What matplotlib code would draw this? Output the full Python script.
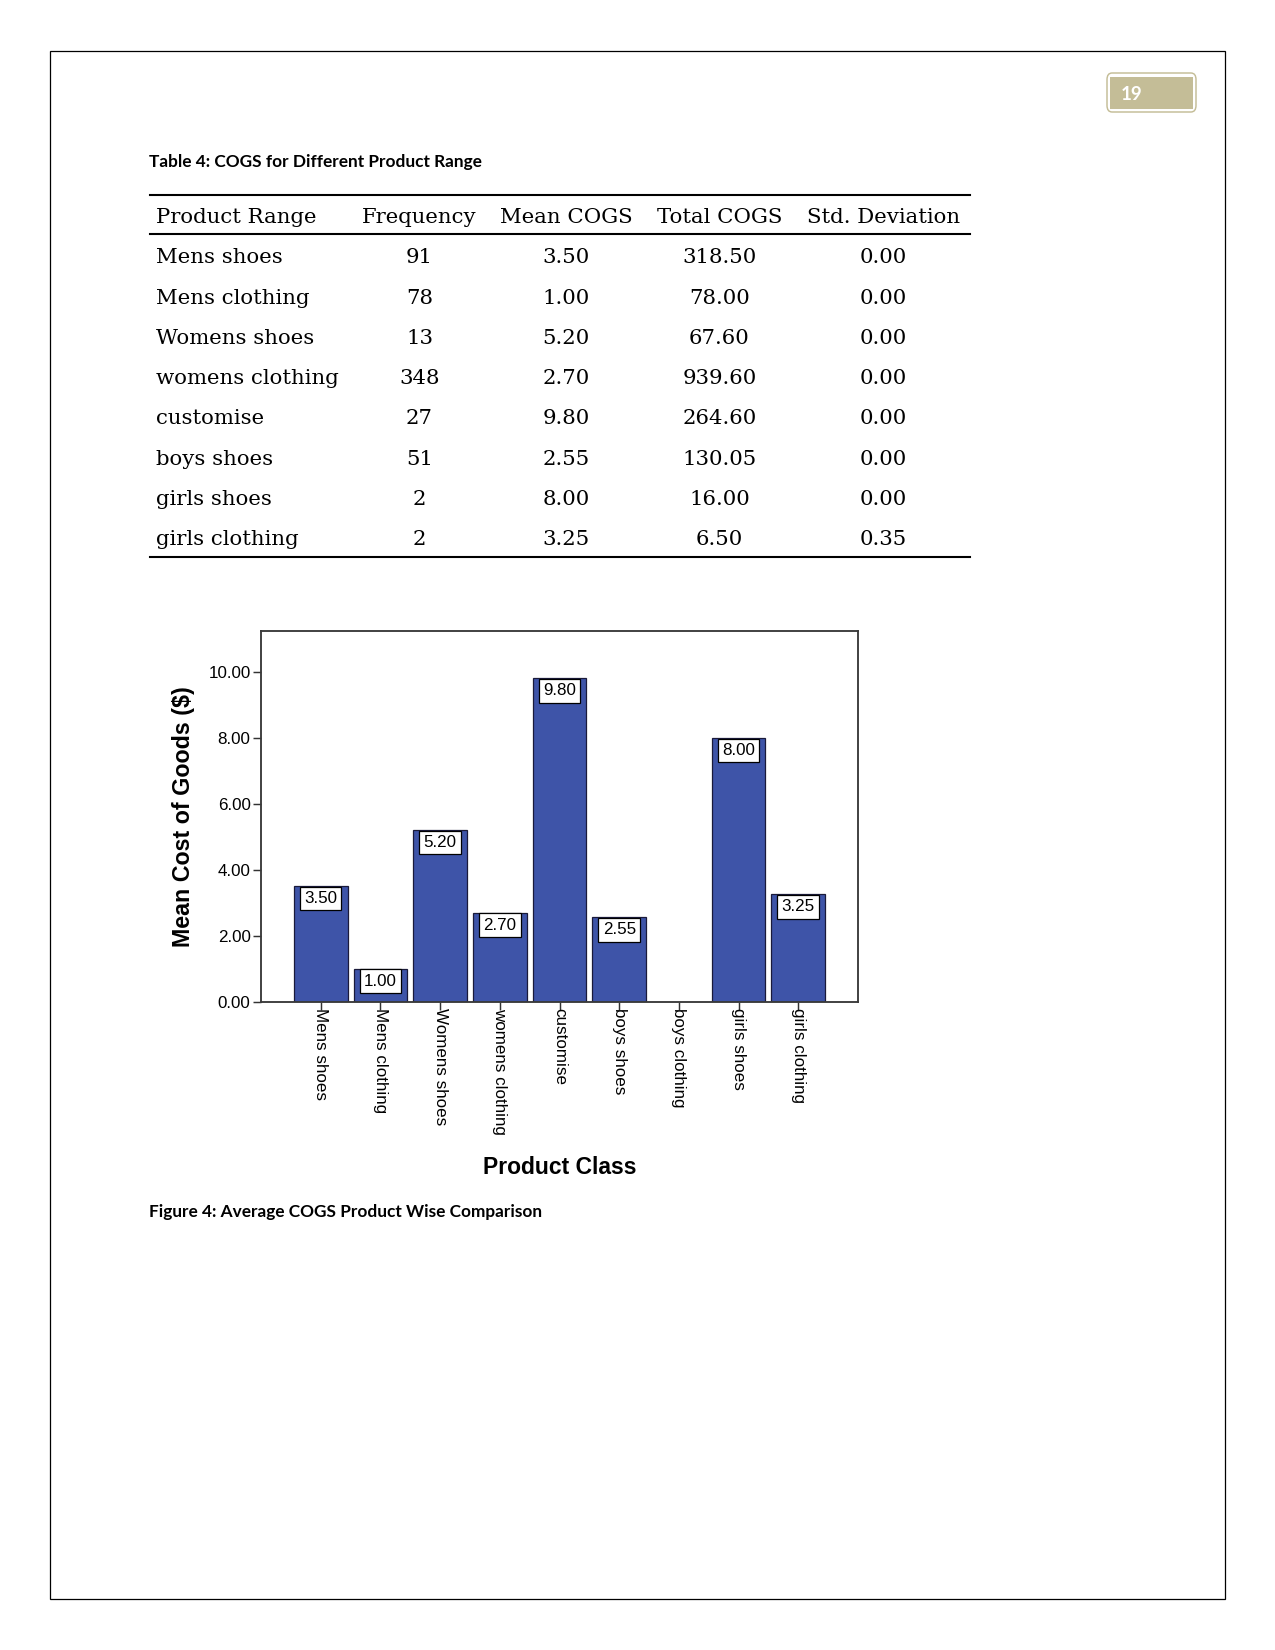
import numpy as np
import matplotlib
matplotlib.use("Agg")
import matplotlib.pyplot as plt
from matplotlib.lines import Line2D
from matplotlib.patches import Rectangle, FancyBboxPatch

# table data
columns = ["Product Range", "Frequency", "Mean COGS", "Total COGS", "Std. Deviation"]
product_range = ["Mens shoes", "Mens clothing", "Womens shoes", "womens clothing",
                 "customise", "boys shoes", "girls shoes", "girls clothing"]
frequency = [91, 78, 13, 348, 27, 51, 2, 2]
mean_cogs = [3.50, 1.00, 5.20, 2.70, 9.80, 2.55, 8.00, 3.25]
total_cogs = [318.50, 78.00, 67.60, 939.60, 264.60, 130.05, 16.00, 6.50]
std_dev = [0.00, 0.00, 0.00, 0.00, 0.00, 0.00, 0.00, 0.35]

# chart data (boys clothing has no bar)
product_class = ["Mens shoes", "Mens clothing", "Womens shoes", "womens clothing",
                 "customise", "boys shoes", "boys clothing", "girls shoes", "girls clothing"]
class_mean = [3.50, 1.00, 5.20, 2.70, 9.80, 2.55, np.nan, 8.00, 3.25]
y_ticks = [0, 2, 4, 6, 8, 10]

W, H = 1275, 1650


def fx(px):
    return px / W


def fy(py):
    return 1 - py / H


fig = plt.figure(figsize=(8.5, 11), dpi=150)
fig.patch.set_facecolor("white")

# page border
fig.add_artist(Rectangle((fx(50.5), fy(1599)), fx(1224.5) - fx(50.5), fy(50.5) - fy(1599),
                         transform=fig.transFigure, fill=False, lw=0.6, ec="black"))

# page number box
tan = "#C4BD97"
fig.add_artist(FancyBboxPatch((fx(1107), fy(112)), fx(1196) - fx(1107), fy(73) - fy(112),
                              boxstyle="round,pad=0,rounding_size=0.004",
                              transform=fig.transFigure, fill=False, lw=0.7, ec=tan))
fig.add_artist(Rectangle((fx(1109.5), fy(109)), fx(1193) - fx(1109.5), fy(77) - fy(109),
                         transform=fig.transFigure, fc=tan, ec="none"))
fig.text(fx(1121), fy(94.5), "19", color="white", fontsize=9, fontweight="bold",
         family=["Lato", "DejaVu Sans"], va="center", ha="left")

cap_font = ["Lato", "DejaVu Sans"]
fig.text(fx(149), fy(162), "Table 4: COGS for Different Product Range", fontsize=8.3,
         fontweight="bold", family=cap_font, va="center", ha="left")

# table
for yl, lw in [(194.6, 1.0), (233.5, 1.0), (556.5, 1.0)]:
    fig.add_artist(Line2D([fx(150), fx(970)], [fy(yl), fy(yl)], transform=fig.transFigure,
                          color="black", lw=lw))

col_x = [155.7, 419.5, 566, 719.5, 883.5]
tfont = dict(family="DejaVu Serif", fontsize=10.2, va="center")
for i, name in enumerate(columns):
    fig.text(fx(col_x[i]), fy(217.7), name, ha="left" if i == 0 else "center", **tfont)

row_y = 257.8
for i in range(len(product_range)):
    yy = fy(row_y + i * 40.25)
    fig.text(fx(col_x[0]), yy, product_range[i], ha="left", **tfont)
    fig.text(fx(col_x[1]), yy, str(frequency[i]), ha="center", **tfont)
    fig.text(fx(col_x[2]), yy, f"{mean_cogs[i]:.2f}", ha="center", **tfont)
    fig.text(fx(col_x[3]), yy, f"{total_cogs[i]:.2f}", ha="center", **tfont)
    fig.text(fx(col_x[4]), yy, f"{std_dev[i]:.2f}", ha="center", **tfont)

# bar chart
ax = fig.add_axes([fx(261), fy(1001.5), fx(858) - fx(261), fy(631) - fy(1001.5)])
sans = "Liberation Sans"
x = np.arange(len(product_class))
bars = ax.bar(x, class_mean, width=0.9, color="#3E54A8", edgecolor="#1a1a3a", lw=0.6)

for xi, v in zip(x, class_mean):
    if np.isnan(v):
        continue
    ax.annotate(f"{v:.2f}", (xi, v), xytext=(0, -2.4), textcoords="offset points",
                ha="center", va="top", fontsize=8.2, family=sans,
                bbox=dict(boxstyle="square,pad=0.25", fc="white", ec="black", lw=0.6))

ax.set_xlim(-1, 9)
ax.set_ylim(0, 11.24)
ax.set_yticks(y_ticks)
ax.set_yticklabels([f"{t:.2f}" for t in y_ticks], family=sans, fontsize=8.2)
ax.set_xticks(x)
ax.set_xticklabels(product_class, rotation=-90, family=sans, fontsize=8.2,
                   ha="center", va="top")
ax.tick_params(axis="y", direction="out", length=4, width=0.7, pad=1, color="#333333")
ax.tick_params(axis="x", direction="out", length=4, width=0.7, pad=-1, color="#333333")
for s in ax.spines.values():
    s.set_color("#3a3a3a")
    s.set_linewidth(0.9)

ax.set_ylabel("Mean Cost of Goods ($)", family=sans, fontsize=11.2, fontweight="bold")
ax.yaxis.set_label_coords(-0.13, 0.5)
ax.set_xlabel("Product Class", family=sans, fontsize=11, fontweight="bold")
ax.xaxis.set_label_coords(0.5, -0.449)
ax.xaxis.label.set_va("center")
ax.yaxis.label.set_va("center")

fig.text(fx(149), fy(1212), "Figure 4: Average COGS Product Wise Comparison", fontsize=8.3,
         fontweight="bold", family=cap_font, va="center", ha="left")

fig.savefig("out.png", dpi=150)
